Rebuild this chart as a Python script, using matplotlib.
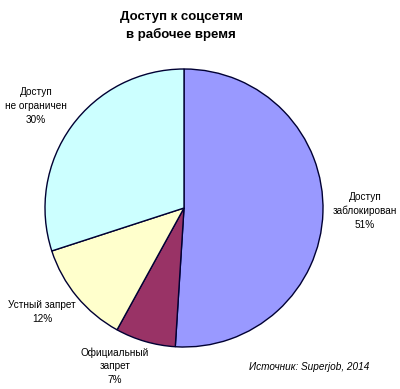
import matplotlib
matplotlib.use("Agg")
import matplotlib.pyplot as plt

plt.rcParams['font.family'] = ['Liberation Sans', 'DejaVu Sans']

categories = ["Доступ\nзаблокирован", "Официальный\nзапрет", "Устный запрет", "Доступ\nне ограничен"]
values = [51, 7, 12, 30]
colors = ["#9999FF", "#993366", "#FFFFCC", "#CCFFFF"]
title = "Доступ к соцсетям\nв рабочее время"
source = "Источник: Superjob, 2014"

fig = plt.figure(figsize=(4.0, 3.89), dpi=100)
fig.patch.set_facecolor("white")
ax = fig.add_axes([(184 - 139) / 400, (389 - 208 - 139) / 389, 278 / 400, 278 / 389])
ax.pie(values, colors=colors, startangle=90, counterclock=False,
       wedgeprops=dict(edgecolor="#000033", linewidth=1.0))
ax.set_aspect("equal")
ax.set_xlim(-1, 1)
ax.set_ylim(-1, 1)

# label positions in pixels (x, y from top)
label_pos = [(365, 211), (115, 366), (42, 312), (36, 106)]
for cat, val, (px, py) in zip(categories, values, label_pos):
    fig.text(px / 400, 1 - py / 389, f"{cat}\n{val}%", ha="center", va="center",
             fontsize=7.2, linespacing=1.45, color="black")

fig.text(181 / 400, 1 - 26 / 389, title, ha="center", va="center",
         fontsize=9.5, fontweight="bold", linespacing=1.45)
fig.text(309 / 400, 1 - 367 / 389, source, ha="center", va="center",
         fontsize=7.2, style="italic")

fig.savefig("out.png", dpi=100)
